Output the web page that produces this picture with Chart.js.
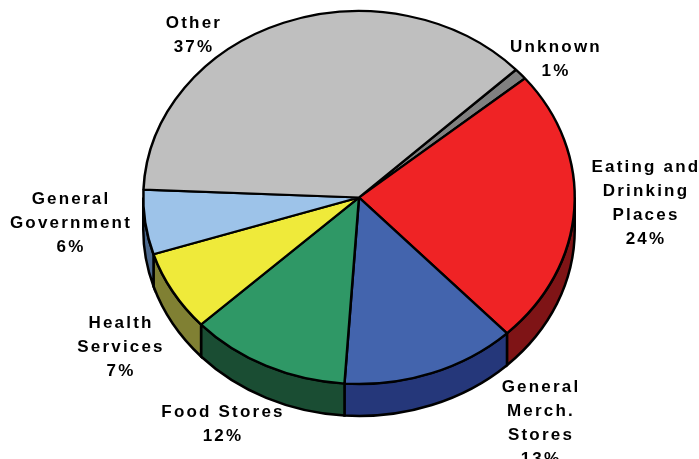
<!DOCTYPE html>
<html>
<head>
<meta charset="utf-8">
<style>
  html, body { margin: 0; padding: 0; background: #fff; overflow: hidden; }
  canvas { display: block; }
</style>
<script src="https://cdn.jsdelivr.net/npm/chart.js@4/dist/chart.umd.min.js"></script>
</head>
<body>
<canvas id="pie" width="699" height="459"></canvas>
<script>
// data, labels show these rounded
const categories = ['Unknown', 'Eating and\nDrinking\nPlaces', 'General\nMerch.\nStores', 'Food Stores', 'Health\nServices', 'General\nGovernment', 'Other'];
const shares = [1, 24, 13.1, 12, 7, 5.6, 37.3];
const topColors = ['#808080', '#ef2325', '#4364ad', '#2f9866', '#efea3a', '#9dc3e9', '#bfbfbf'];
const wallColors = ['#404040', '#7f1416', '#25377a', '#1a4d33', '#808033', '#4d6a8f', '#606060'];

// centre x and first baseline of each label
const labelX = [556, 646, 541, 223, 121, 71, 194];
const labelY = [52, 172, 392, 417, 328, 204, 28];
const lineGap = 24;

// pie is squashed and pushed up to fake the 3d tilt
const centerY = 197.5;
const squash = 187.5 / 217;
const depth = 32;

const tiltPlugin = {
    id: 'tilt',
    beforeDatasetsDraw(chart) {
        const ctx = chart.ctx;
        const arcs = chart.getDatasetMeta(0).data;
        const TWO_PI = Math.PI * 2;

        ctx.save();
        arcs.forEach((arc, i) => {
            const rx = arc.outerRadius;
            const ry = rx * squash;
            // only the front half of the rim is visible
            [-TWO_PI, 0, TWO_PI].forEach(k => {
                const a = Math.max(arc.startAngle + k, 0);
                const b = Math.min(arc.endAngle + k, Math.PI);
                if (b <= a) return;
                ctx.beginPath();
                ctx.ellipse(arc.x, centerY, rx, ry, 0, a, b);
                ctx.ellipse(arc.x, centerY + depth, rx, ry, 0, b, a, true);
                ctx.closePath();
                ctx.fillStyle = wallColors[i];
                ctx.fill();
                ctx.lineWidth = 2.5;
                ctx.strokeStyle = '#000';
                ctx.stroke();
            });
        });
        ctx.restore();

        const cy = arcs[0].y;
        ctx.save();
        ctx.translate(0, centerY);
        ctx.scale(1, squash);
        ctx.translate(0, -cy);
    },
    afterDatasetsDraw(chart) {
        chart.ctx.restore();
    },
    afterDraw(chart) {
        const ctx = chart.ctx;
        ctx.save();
        ctx.font = 'bold 17px "Liberation Sans", Arial, sans-serif';
        ctx.letterSpacing = '2.2px';
        ctx.fillStyle = '#000';
        ctx.textAlign = 'center';
        ctx.textBaseline = 'alphabetic';
        categories.forEach((name, i) => {
            const lines = name.split('\n').concat(Math.round(shares[i]) + '%');
            lines.forEach((line, j) => {
                ctx.fillText(line, labelX[i], labelY[i] + j * lineGap);
            });
        });
        ctx.restore();
    }
};

new Chart(document.getElementById('pie').getContext('2d'), {
    type: 'pie',
    data: {
        labels: categories,
        datasets: [{
            data: shares,
            backgroundColor: topColors,
            borderColor: '#000',
            borderWidth: 2.5
        }]
    },
    options: {
        responsive: false,
        animation: false,
        rotation: 46.7,
        layout: { padding: { left: 142, right: 123, top: 12, bottom: 13 } },
        plugins: {
            legend: { display: false },
            tooltip: { enabled: false }
        }
    },
    plugins: [tiltPlugin]
});
</script>
</body>
</html>
